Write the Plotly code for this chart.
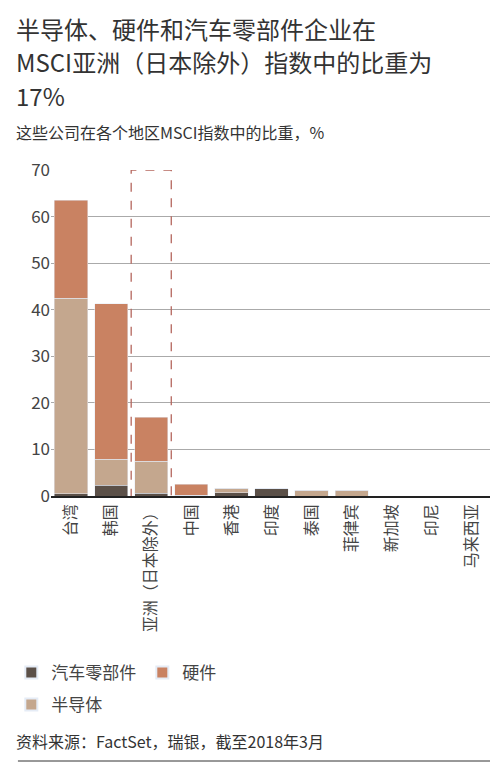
import plotly.graph_objects as go

categories = ["台湾", "韩国", "亚洲（日本除外）", "中国", "香港", "印度", "泰国", "菲律宾", "新加坡", "印尼", "马来西亚"]
auto_parts = [0.5, 2.3, 0.6, 0.2, 0.7, 1.6, 0, 0, 0, 0, 0]
semis = [42.0, 5.6, 6.9, 0, 1.0, 0, 1.2, 1.2, 0, 0, 0]
hardware = [21.0, 33.4, 9.4, 2.3, 0, 0, 0, 0, 0, 0, 0]
yticks = [0, 10, 20, 30, 40, 50, 60, 70]
title_lines = ["半导体、硬件和汽车零部件企业在", "MSCI亚洲（日本除外）指数中的比重为", "17%"]

font = "Noto Sans CJK SC"
fig = go.Figure()
fig.add_bar(x=categories, y=auto_parts, name="汽车零部件", marker_color="#5b5048", legendrank=1, legend="legend")
fig.add_bar(x=categories, y=semis, name="半导体", marker_color="#c4a78e", legend="legend2")
fig.add_bar(x=categories, y=hardware, name="硬件", marker_color="#c98262", legendrank=2, legend="legend")

H = 326.0
leg = dict(orientation="h", x=-0.09, xanchor="left", yanchor="middle",
           entrywidth=86, entrywidthmode="pixels", font=dict(size=17, color="#444"),
           itemsizing="constant", traceorder="normal")
fig.update_layout(
    barmode="stack", bargap=0.17, width=498, height=778,
    margin=dict(l=43, r=14, t=162, b=290, autoexpand=False),
    paper_bgcolor="white", plot_bgcolor="white",
    font=dict(family=font, color="#333333", size=14),
    showlegend=True,
    legend=dict(leg, y=-(673 - 496) / H),
    legend2=dict(leg, y=-(705 - 496) / H),
    xaxis=dict(tickangle=-90, showline=True, linecolor="#222", linewidth=1.5,
               tickfont=dict(size=16, color="#444"), ticks=""),
    yaxis=dict(range=[0, 70], tickvals=yticks, showgrid=True, gridcolor="#aaaaaa",
               zeroline=False, tickfont=dict(size=17, color="#444"), ticks=""),
)
fig.add_shape(type="rect", xref="x", yref="y", x0=1.5, x1=2.5, y0=-2.8, y1=70,
              line=dict(color="#b5675e", width=1.3, dash="dash"), fillcolor="rgba(0,0,0,0)")
for i, line in enumerate(title_lines):
    fig.add_annotation(xref="paper", yref="paper", x=-0.085, y=1 + (162 - 20 - 33.5 * i) / H,
                       xanchor="left", yanchor="middle", showarrow=False, text=line,
                       font=dict(size=24, color="#333"))
fig.add_annotation(xref="paper", yref="paper", x=-0.085, y=1 + (162 - 124) / H, xanchor="left", yanchor="middle",
                   showarrow=False, text="这些公司在各个地区MSCI指数中的比重，%",
                   font=dict(size=16, color="#333"))
fig.add_annotation(xref="paper", yref="paper", x=-0.085, y=-(741 - 496) / H, xanchor="left", yanchor="middle",
                   showarrow=False, text="资料来源：FactSet，瑞银，截至2018年3月",
                   font=dict(size=16, color="#333"))
fig.add_shape(type="line", xref="paper", yref="paper", x0=-0.075, x1=1.0, y0=-(761 - 496) / H, y1=-(761 - 496) / H,
              line=dict(color="#333", width=1))
fig.write_html("out.html")
